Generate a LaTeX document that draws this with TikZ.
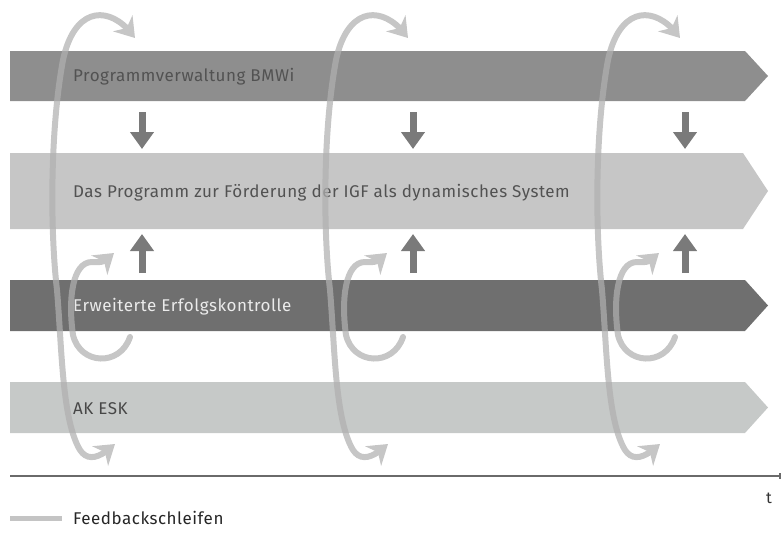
\documentclass[tikz,border=0pt]{standalone}
\usepackage{fontspec}
\setmainfont{Fira Sans}
\newfontfamily\bandfont[LetterSpace=3]{Fira Sans}
\usetikzlibrary{arrows.meta,bending}
\definecolor{bandA}{HTML}{8E8E8E}
\definecolor{bandB}{HTML}{C6C6C6}
\definecolor{bandC}{HTML}{6F6F6F}
\definecolor{bandD}{HTML}{C6C9C8}
\definecolor{flowgray}{HTML}{7A7A7A}
\definecolor{loopgray}{HTML}{B0B0B0}
\definecolor{axisgray}{HTML}{6A6A6A}
\tikzset{
  bandlabel/.style={anchor=west, inner sep=0pt, font=\bandfont\fontsize{17}{19}\selectfont},
  flowarrow/.style={draw=flowgray, line width=7pt, -{Triangle[width=23pt,length=17pt]}},
  loopline/.style={draw=loopgray, line width=6pt, line cap=round},
  lhead/.tip={Stealth[width=25pt,length=19pt,inset=6pt,flex]},
}
\begin{document}
\begin{tikzpicture}[x=1pt,y=-1pt]
\useasboundingbox (0,0) rectangle (781,541);
% bands
\fill[bandA] (10,51) -- (745,51) -- (768,76) -- (745,101) -- (10,101) -- cycle;
\fill[bandB] (10,153) -- (743,153) -- (768,191) -- (743,229) -- (10,229) -- cycle;
\fill[bandC] (10,280) -- (745,280) -- (768,305.5) -- (745,331) -- (10,331) -- cycle;
\fill[bandD] (10,382) -- (745,382) -- (768,407.5) -- (745,433) -- (10,433) -- cycle;
\node[bandlabel, text=black!68] (l1) at (73,77) {Programmverwaltung BMWi};
\node[bandlabel, text=black!68] (l2) at (73,193) {Das Programm zur Förderung der IGF als dynamisches System};
\node[bandlabel, text=white!92!black] (l3) at (73,307) {Erweiterte Erfolgskontrolle};
\node[bandlabel, text=black!72] (l4) at (73,409) {AK ESK};
% flow arrows
\foreach \dx [count=\i] in {0,271,543} {
  \coordinate (d\i s) at (142+\dx,112);
  \coordinate (d\i e) at (142+\dx,149);
  \coordinate (u\i s) at (142+\dx,273);
  \coordinate (u\i e) at (142+\dx,234);
  \draw[flowarrow] (d\i s) -- (d\i e);
  \draw[flowarrow] (u\i s) -- (u\i e);
}
% feedback loops
\begin{scope}[transparency group, opacity=0.72]
\foreach \dx in {0,273,545} {
  \begin{scope}[xshift=\dx]
    \draw[loopline, lhead-lhead]
      (135,38) .. controls (112,5) and (75,4) .. (63,60)
      .. controls (50,130) and (50,230) .. (57,290)
      .. controls (62,350) and (62,420) .. (80,450)
      .. controls (88,462) and (100,458) .. (115,444);
    \draw[loopline, -lhead]
      (130,337) .. controls (120,367) and (80,365) .. (73,335)
      .. controls (68,300) and (72,262) .. (92,262)
      .. controls (100,262) and (104,264) .. (114,253);
  \end{scope}
}
\end{scope}
% time axis
\coordinate (a0) at (10,476);
\coordinate (a1) at (781,476);
\draw[axisgray, line width=1.6pt, -{Bar[width=6pt]}] (a0) -- (a1);
\node[font=\fontsize{16}{18}\selectfont, text=black!80] (t) at (769,498) {t};
% legend
\coordinate (g0) at (10,518);
\coordinate (g1) at (62,518);
\draw[draw=loopgray!75!white, line width=5pt] (g0) -- (g1);
\node[anchor=west, inner sep=0pt, font=\bandfont\fontsize{17}{19}\selectfont, text=black!85] (leg) at (73,518) {Feedbackschleifen};
\end{tikzpicture}
\end{document}
